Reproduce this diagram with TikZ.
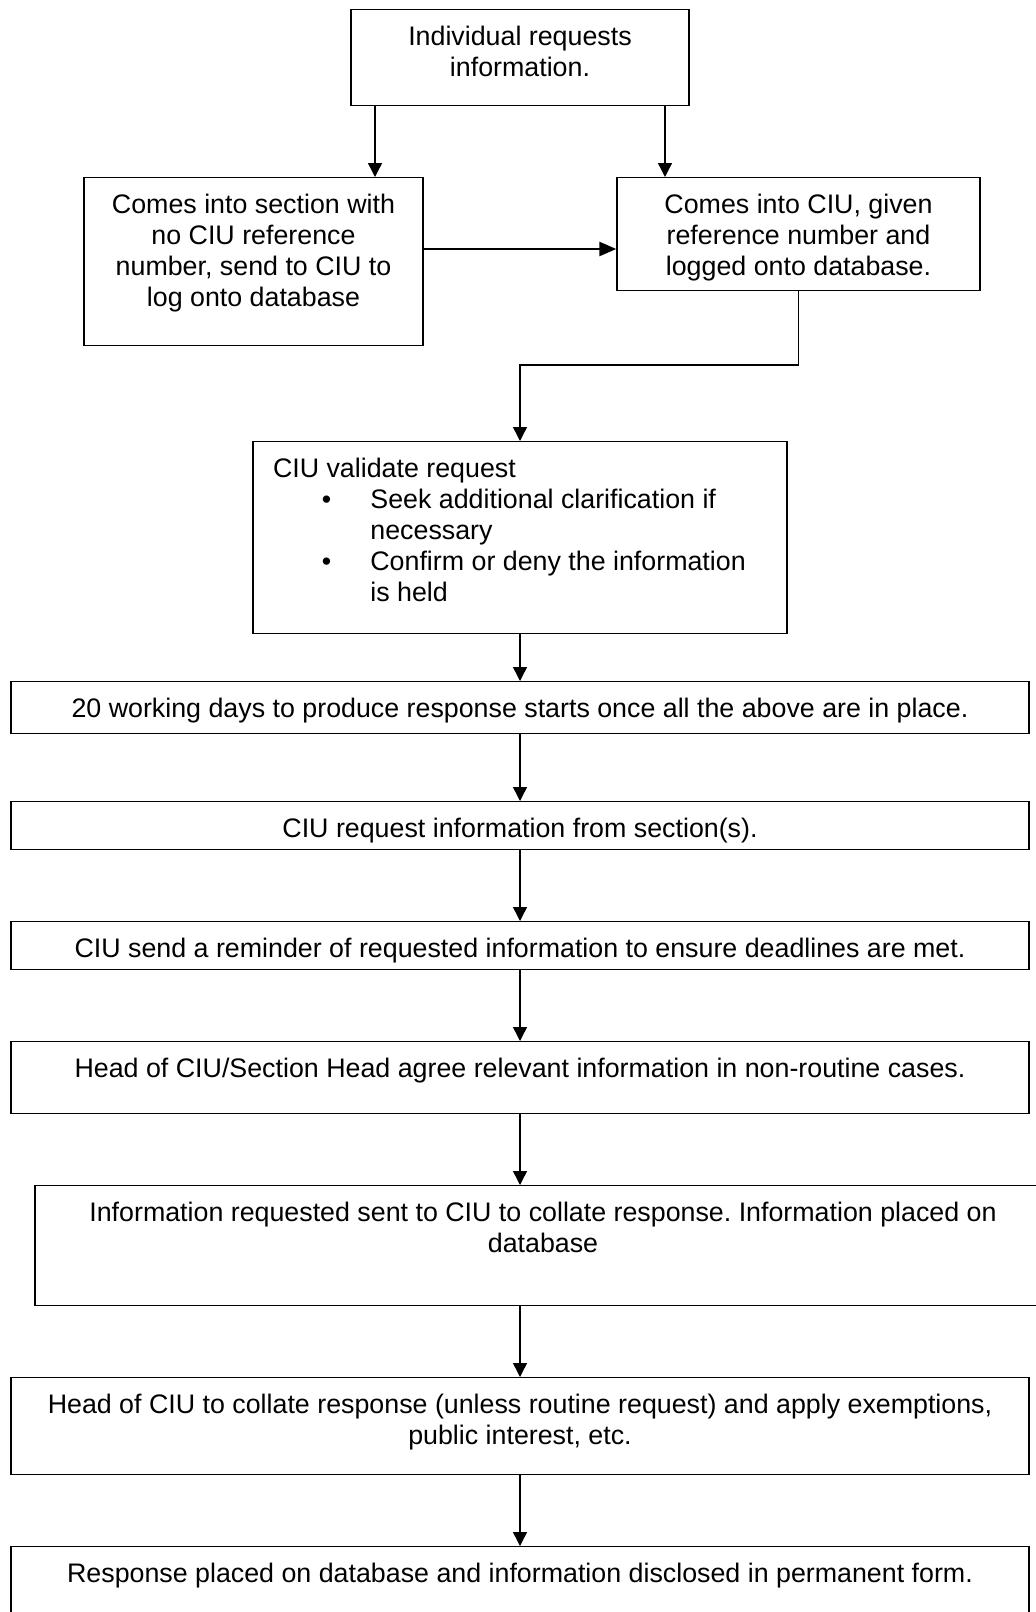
\documentclass[tikz,border=0pt]{standalone}
\usepackage{fontspec}
\setmainfont{Liberation Sans}
\usepackage{tikz}
\usetikzlibrary{arrows.meta}
\frenchspacing

\begin{document}
\begin{tikzpicture}[x=0.5pt,y=-0.5pt,
    font=\fontsize{13.4}{15.5}\selectfont,
    box/.style={draw,line width=0.7pt,anchor=north,align=flush center,
      inner xsep=4pt,inner ysep=4pt,text height=14pt},
    arr/.style={line width=0.7pt,-{Triangle[length=7pt,width=7pt]}}]
  \useasboundingbox (0,0) rectangle (1036,1612);
  \node[box,text width=161pt,text depth=26pt] (ask) at (520,9) {Individual requests\\information.};
  \node[box,text width=161.5pt,text depth=62pt] (section) at (253.5,177)
    {Comes into section with\\no CIU reference\\number, send to CIU to\\log onto database};
  \node[box,text width=173.5pt,text depth=34.5pt] (ciu) at (798.5,177)
    {Comes into CIU, given\\reference number and\\logged onto database.};
  \node[box,align=flush left,inner xsep=10pt,text width=247pt,text depth=74pt] (valid) at (520,441)
    {CIU validate request\\
     \hspace*{24.4pt}\makebox[24.3pt][l]{\textbullet}Seek additional clarification if\\
     \hspace*{48.7pt}necessary\\
     \hspace*{24.4pt}\makebox[24.3pt][l]{\textbullet}Confirm or deny the information\\
     \hspace*{48.7pt}is held};
  \node[box,minimum width=509pt,text depth=4pt] (days) at (520,681)
    {20 working days to produce response starts once all the above are in place.};
  \node[box,minimum width=509pt,text depth=2pt] (fetch) at (520,801)
    {CIU request information from section(s).};
  \node[box,minimum width=509pt,text depth=2pt] (remind) at (520,921)
    {CIU send a reminder of requested information to ensure deadlines are met.};
  \node[box,minimum width=509pt,text depth=14pt] (agree) at (520,1041)
    {Head of CIU/Section Head agree relevant information in non-routine cases.};
  \node[box,text width=500pt,text depth=38pt] (collect) at (543,1185)
    {Information requested sent to CIU to collate response. Information placed on\\database};
  \node[box,text width=501pt,text depth=26.5pt] (collate) at (520,1377)
    {Head of CIU to collate response (unless routine request) and apply exemptions,\\public interest, etc.};
  \node[box,minimum width=509pt,text depth=38pt] (disclose) at (520,1546)
    {Response placed on database and information disclosed in permanent form.};
  \coordinate (la) at (375,0);
  \coordinate (ra) at (665,0);
  \coordinate (ha) at (0,249);
  \coordinate (bend) at (520,365);
  \draw[arr] (ask.south -| la) -- (section.north -| la);
  \draw[arr] (ask.south -| ra) -- (ciu.north -| ra);
  \draw[line width=1.3pt,-{Triangle[length=8.5pt,width=7pt]}] (section.east |- ha) -- (ciu.west |- ha);
  \draw[arr] (ciu.south) |- (bend) -- (valid.north);
  \draw[arr] (valid.south) -- (valid.south |- days.north);
  \draw[arr] (days.south) -- (fetch.north);
  \draw[arr] (fetch.south) -- (remind.north);
  \draw[arr] (remind.south) -- (agree.north);
  \draw[arr] (agree.south) -- (agree.south |- collect.north);
  \draw[arr] (collect.south -| agree.south) -- (collate.north);
  \draw[arr] (collate.south) -- (disclose.north);
\end{tikzpicture}
\end{document}
